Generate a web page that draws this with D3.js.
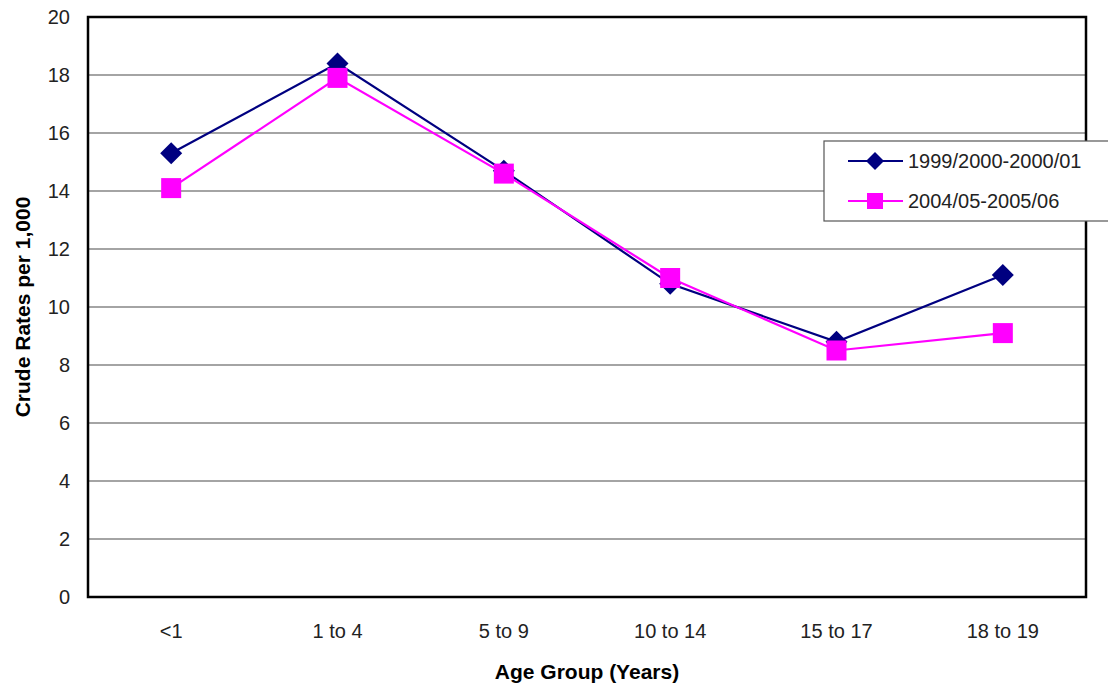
<!DOCTYPE html>
<html><head><meta charset="utf-8">
<script src="https://cdn.jsdelivr.net/npm/d3@7"></script>
<style>body{margin:0;background:#fff;} svg{display:block;font-family:"Liberation Sans",Arial,sans-serif;}</style>
</head><body>
<svg id="c" width="1108" height="688"></svg>
<script>
const categories = ["<1","1 to 4","5 to 9","10 to 14","15 to 17","18 to 19"];
const series1Name = "1999/2000-2000/01";
const series1 = [15.3,18.4,14.7,10.8,8.8,11.1];
const series2Name = "2004/05-2005/06";
const series2 = [14.1,17.9,14.6,11.0,8.5,9.1];
const yTicks = [0,2,4,6,8,10,12,14,16,18,20];

const svg = d3.select("#c");
const L=88,R=1086,T=17,B=597;
const x = d3.scaleBand().domain(categories).range([L,R]);
const y = d3.scaleLinear().domain([0,20]).range([B,T]);
const FF = "Liberation Sans, Arial, sans-serif";

// gridlines
svg.append("g").selectAll("line").data(yTicks.filter(d=>d>0&&d<20)).join("line")
  .attr("x1",L).attr("x2",R).attr("y1",d=>y(d)).attr("y2",d=>y(d))
  .attr("stroke","#4a4a4a").attr("stroke-width",1.2);

// y axis labels
const ya = svg.append("g").attr("transform",`translate(${L},0)`)
  .call(d3.axisLeft(y).tickValues(yTicks).tickSize(0).tickPadding(18));
ya.select(".domain").remove();
ya.selectAll("text").attr("font-size",20).attr("fill","#222").attr("font-family",FF);

// x axis labels
const xa = svg.append("g").attr("transform",`translate(0,${B})`)
  .call(d3.axisBottom(x).tickSize(0).tickPadding(0));
xa.select(".domain").remove();
xa.selectAll("text").attr("font-size",20).attr("fill","#222").attr("font-family",FF)
  .attr("dy",null).attr("y",41);

// frame
svg.append("rect").attr("x",L).attr("y",T).attr("width",R-L).attr("height",B-T)
  .attr("fill","none").attr("stroke","#000").attr("stroke-width",2.5);

const cx = d=>x(d)+x.bandwidth()/2;
const line = d3.line().x((d,i)=>cx(categories[i])).y(d=>y(d));

function drawSeries(vals,color,shape){
  svg.append("path").datum(vals).attr("d",line).attr("fill","none")
    .attr("stroke",color).attr("stroke-width",2.2);
  const g = svg.append("g");
  vals.forEach((v,i)=>{
    const px=cx(categories[i]), py=y(v);
    if(shape==="diamond"){
      g.append("path").attr("d",`M${px},${py-11}L${px+11},${py}L${px},${py+11}L${px-11},${py}Z`).attr("fill",color);
    } else {
      g.append("rect").attr("x",px-10).attr("y",py-10).attr("width",20).attr("height",20).attr("fill",color);
    }
  });
}
drawSeries(series1,"#000080","diamond");
drawSeries(series2,"#FF00FF","square");

// legend
const lg = svg.append("g");
lg.append("rect").attr("x",824).attr("y",141).attr("width",290).attr("height",80)
  .attr("fill","#fff").attr("stroke","#555").attr("stroke-width",1.2);
[[series1Name,"#000080","diamond",161],[series2Name,"#FF00FF","square",201]].forEach(([n,c,s,ly])=>{
  lg.append("line").attr("x1",848).attr("x2",903).attr("y1",ly).attr("y2",ly).attr("stroke",c).attr("stroke-width",2.2);
  if(s==="diamond") lg.append("path").attr("d",`M875,${ly-9}L884,${ly}L875,${ly+9}L866,${ly}Z`).attr("fill",c);
  else lg.append("rect").attr("x",867).attr("y",ly-8).attr("width",16).attr("height",16).attr("fill",c);
  lg.append("text").attr("x",908).attr("y",ly).attr("dy","0.35em").attr("font-size",20).attr("fill","#222").attr("font-family",FF).text(n);
});

// axis titles
svg.append("text").attr("transform","translate(30,307) rotate(-90)").attr("text-anchor","middle")
  .attr("font-weight","bold").attr("font-size",21).attr("fill","#000").attr("font-family",FF).text("Crude Rates per 1,000");
svg.append("text").attr("x",587).attr("y",679).attr("text-anchor","middle")
  .attr("font-weight","bold").attr("font-size",21).attr("fill","#000").attr("font-family",FF).text("Age Group (Years)");
</script>
</body></html>
